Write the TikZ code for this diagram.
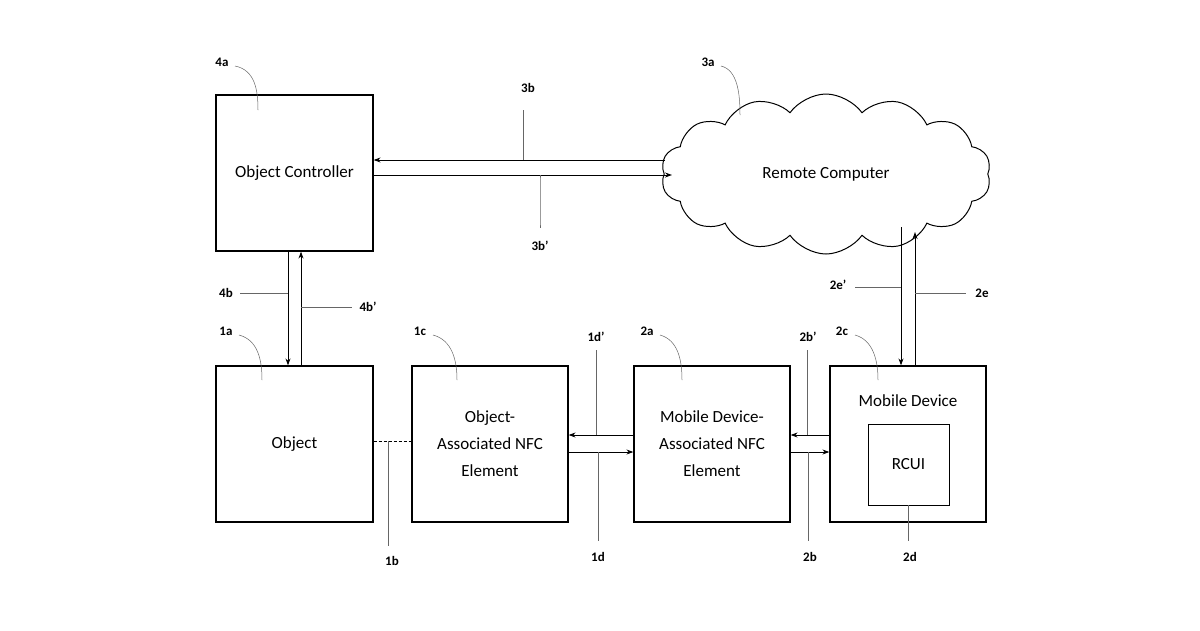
\documentclass[tikz,border=0pt]{standalone}
\usepackage{fontspec}
\setmainfont{Carlito}
\usetikzlibrary{shapes.symbols,arrows.meta}
\begin{document}
\begin{tikzpicture}[x=1pt,y=-1pt,
 box/.style={draw,line width=1.2pt,inner sep=0pt,align=center,font=\fontsize{17}{27}\selectfont},
 lbl/.style={font=\bfseries\fontsize{13}{15}\selectfont},
 ld/.style={draw=black!60,line width=0.5pt},
 ar/.style={line width=1pt,-{Stealth[length=7pt,width=5pt]}}]
\useasboundingbox (0,0) rectangle (1200,630);
\node[box,minimum width=157,minimum height=156] (oc) at (294.5,173) {Object Controller};
\node[box,minimum width=157,minimum height=156] (ob) at (294.5,444) {Object};
\node[box,minimum width=156,minimum height=156] (on) at (490,444) {Object-\\Associated NFC\\Element};
\node[box,minimum width=156,minimum height=156] (mn) at (712,444) {Mobile Device-\\Associated NFC\\Element};
\node[box,minimum width=156,minimum height=156] (md) at (908,444) {};
\node[font=\fontsize{17}{20}\selectfont] (mdt) at (908,401) {Mobile Device};
\node[box,minimum width=81,minimum height=81,line width=1pt] (rc) at (908.5,464.5) {RCUI};
\node[cloud,draw,line width=1pt,cloud puffs=14,cloud puff arc=110,aspect=2.1,minimum width=330,minimum height=160,font=\fontsize{17}{20}\selectfont] (cl) at (826,174) {Remote Computer};
% connectors
\coordinate (c1) at (665,160); \coordinate (c2) at (672,175);
\draw[ar] (c1) -- (oc.east |- c1);
\draw[ar] (oc.east |- c2) -- (c2);
\draw[ar] (oc.south -| 288,0) -- (ob.north -| 288,0);
\draw[ar] (ob.north -| 301,0) -- (oc.south -| 301,0);
\draw[ar] (mn.west |- 0,435) -- (on.east |- 0,435);
\draw[ar] (on.east |- 0,452) -- (mn.west |- 0,452);
\draw[ar] (md.west |- 0,435) -- (mn.east |- 0,435);
\draw[ar] (mn.east |- 0,452) -- (md.west |- 0,452);
\coordinate (e1) at (901,227); \coordinate (e2) at (915,232);
\draw[ar] (e1) -- (md.north -| e1);
\draw[ar] (md.north -| e2) -- (e2);
\draw[line width=1pt,dash pattern=on 3pt off 2pt] (ob.east |- 0,441) -- (on.west |- 0,441);
% labels
\node[lbl] (l4a) at (222,62) {4a}; \draw[ld] (235,66) .. controls (255,70) and (258,90) .. (258,110);
\node[lbl] (l3a) at (708,62) {3a}; \draw[ld] (721,66) .. controls (738,70) and (740,95) .. (740,115);
\node[lbl] (l3b) at (528,88) {3b}; \draw[ld] (523,110) -- (523,160);
\node[lbl] (l3bp) at (540,246) {3b'}; \draw[ld] (540,175) .. controls (540,200) and (540,215) .. (540,228);
\node[lbl] (l4b) at (226,293) {4b}; \draw[ld] (240,293) -- (288,293);
\node[lbl] (l4bp) at (368,307) {4b'}; \draw[ld] (301,307) -- (352,307);
\node[lbl] (l1a) at (226,331) {1a}; \draw[ld] (239,335) .. controls (258,340) and (262,360) .. (262,380);
\node[lbl] (l1c) at (420,331) {1c}; \draw[ld] (433,335) .. controls (452,340) and (457,360) .. (457,380);
\node[lbl] (l1dp) at (596,337) {1d'}; \draw[ld] (596,350) -- (596,435);
\node[lbl] (l2a) at (647,331) {2a}; \draw[ld] (660,335) .. controls (678,340) and (682,360) .. (682,380);
\node[lbl] (l2bp) at (808,337) {2b'}; \draw[ld] (807,350) -- (807,435);
\node[lbl] (l2c) at (842,331) {2c}; \draw[ld] (855,335) .. controls (873,340) and (878,360) .. (878,380);
\node[lbl] (l2ep) at (838,285) {2e'}; \draw[ld] (855,287) -- (901,287);
\node[lbl] (l2e) at (982,293) {2e}; \draw[ld] (915,293) -- (966,293);
\node[lbl] (l1b) at (392,561) {1b}; \draw[ld] (388,441) -- (388,546);
\node[lbl] (l1d) at (598,557) {1d}; \draw[ld] (598,452) -- (598,541);
\node[lbl] (l2b) at (810,557) {2b}; \draw[ld] (808,452) -- (808,541);
\node[lbl] (l2d) at (910,557) {2d}; \draw[ld] (908,505) -- (908,541);
\end{tikzpicture}
\end{document}
